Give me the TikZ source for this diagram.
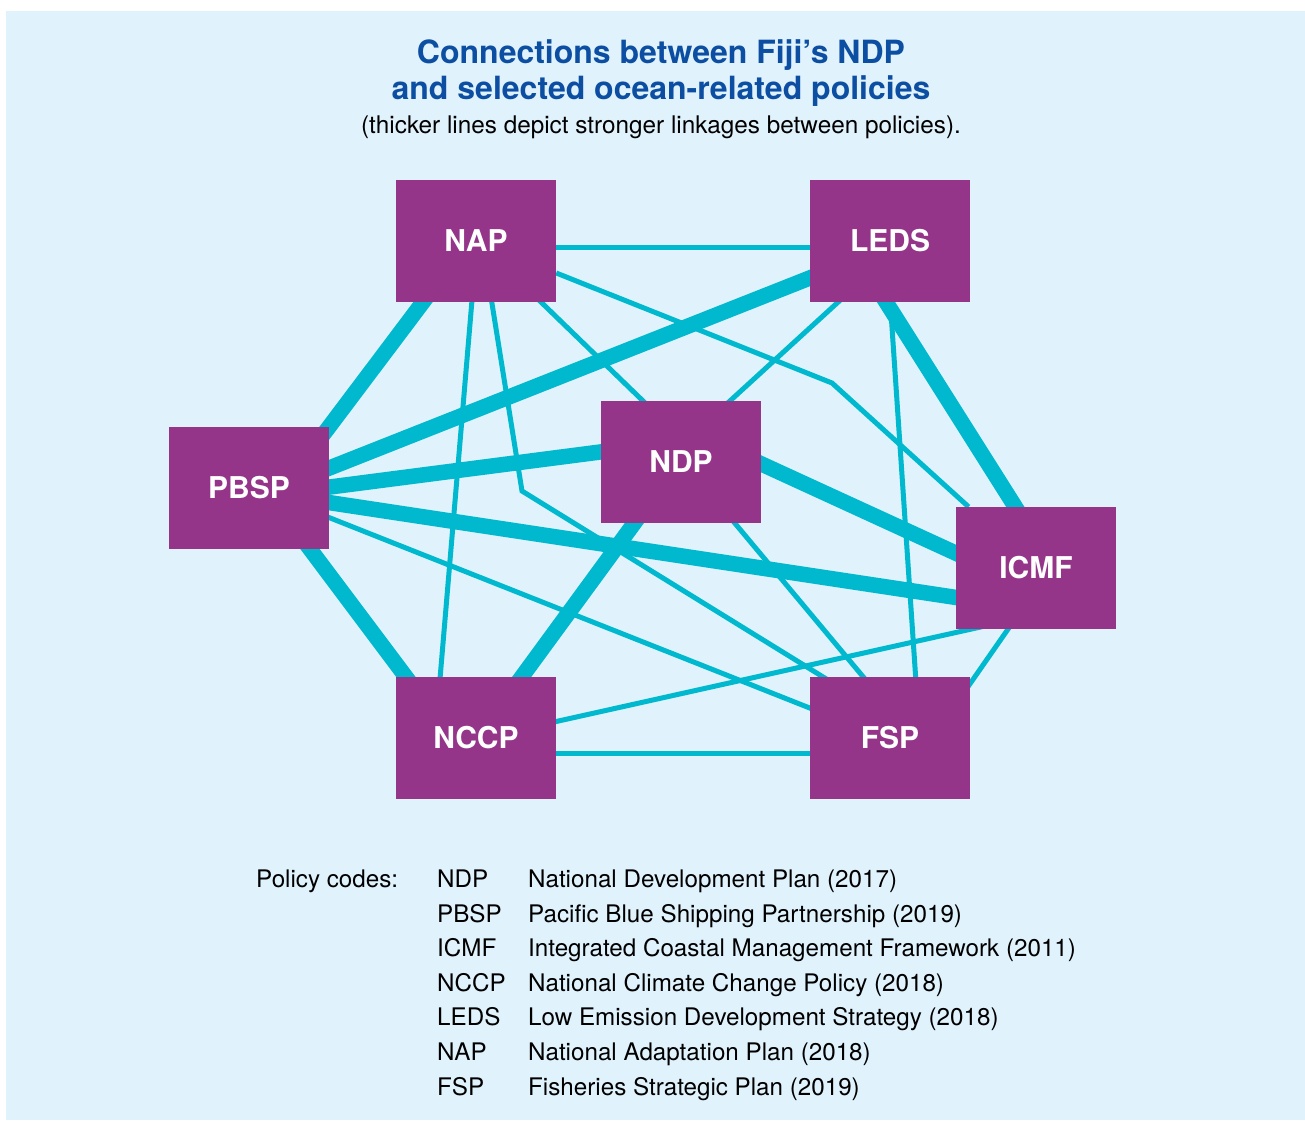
\documentclass[tikz,border=0pt]{standalone}
\usepackage{fontspec}
\setmainfont{TeX Gyre Heros}
\usetikzlibrary{calc}
\definecolor{plum}{HTML}{94358A}
\definecolor{linkcyan}{HTML}{00B9CE}
\definecolor{paleblue}{HTML}{E0F2FC}
\definecolor{titleblue}{HTML}{0B4EA2}
\pgfdeclarelayer{bg}
\pgfdeclarelayer{links}
\pgfsetlayers{bg,links,main}

\begin{document}
\begin{tikzpicture}%
	[x=1pt, y=-1pt,
	policy/.style={fill=plum, text=white, minimum width=160pt, minimum height=122pt,
		inner sep=0pt, font=\fontsize{30}{32}\selectfont\bfseries},
	weak/.style={draw=linkcyan, line width=5pt},
	strong/.style={draw=linkcyan, line width=15.5pt},
	heading/.style={anchor=base, inner sep=0pt, text=titleblue,
		font=\fontsize{32}{35}\selectfont\bfseries},
	legend/.style={anchor=base west, inner sep=0pt, font=\fontsize{24.2}{26}\selectfont}]
%
\useasboundingbox (0,0) rectangle (1305,1120);
\begin{pgfonlayer}{bg}
\fill[paleblue] (6,11) rectangle (1305,1120);
\end{pgfonlayer}
%
%% Title
%%
\node[heading] (title1) at (661,63) {Connections between Fiji's NDP};
\node[heading] (title2) at (661,99) {and selected ocean-related policies};
\node[anchor=base, inner sep=0pt, font=\fontsize{24.3}{26}\selectfont] (subtitle) at (661,133)
	{(thicker lines depict stronger linkages between policies).};
%
%% The policy boxes
%%
\node[policy] (nap)  at (476,241) {NAP};
\node[policy] (leds) at (890,241) {LEDS};
\node[policy] (pbsp) at (249,488) {PBSP};
\node[policy] (ndp)  at (681,462) {NDP};
\node[policy] (icmf) at (1036,568) {ICMF};
\node[policy] (nccp) at (476,738) {NCCP};
\node[policy] (fsp)  at (890,738) {FSP};
%
\coordinate (napbend)  at (522,491);
\coordinate (icmfbend) at (832,383);
%
%% Drawing the linkages behind the boxes
%%
\begin{pgfonlayer}{links}
\draw[weak] ($(nap)+(0,6)$) -- ($(leds)+(0,6)$);
\draw[weak] ($(nap)+(1,0)$) -- ($(nccp)+(-41,0)$);
\draw[weak] ($(nap)+(6,0)$) -- (napbend) -- ($(fsp)+(-28,-37)$);
\draw[weak] ($(nap)+(2,0)$) -- ($(ndp)+(25,0)$);
\draw[weak] (nap) -- (icmfbend) -- (icmf);
\draw[weak] ($(leds)+(-31,42)$) -- ($(ndp)+(27,-41)$);
\draw[weak] ($(leds)+(-1,42)$) -- ($(fsp)+(27,-41)$);
\draw[weak] ($(pbsp)+(51,18)$) -- ($(fsp)+(-50,-18)$);
\draw[weak] ($(ndp)+(37,41)$) -- ($(fsp)+(-10,-41)$);
\draw[weak] ($(nccp)+(51,-10)$) -- ($(icmf)+(-33,54)$);
\draw[weak] ($(icmf)+(-14,41)$) -- ($(fsp)+(68,-37)$);
\draw[weak] ($(nccp)+(0,15)$) -- ($(fsp)+(0,15)$);
%
\draw[strong] ($(pbsp)+(34,0)$) -- ($(nap)+(-7,0)$);
\draw[strong] ($(pbsp)+(50,-8)$) -- ($(leds)+(-50,25)$);
\draw[strong] ($(leds)+(-16,42)$) -- ($(icmf)+(-8,-41)$);
\draw[strong] ($(pbsp)+(50,3)$) -- ($(ndp)+(-50,-14)$);
\draw[strong] ($(pbsp)+(50,10)$) -- ($(icmf)+(-50,34)$);
\draw[strong] ($(pbsp)+(46,41)$) -- ($(nccp)+(-55,-41)$);
\draw[strong] ($(ndp)+(50,-12)$) -- ($(icmf)+(-50,-1)$);
\draw[strong] ($(ndp)+(-32,41)$) -- ($(nccp)+(31,-41)$);
\end{pgfonlayer}
%
%% Policy codes
%%
\node[legend] (codes) at (256,887.5) {Policy codes:};
\foreach \code/\full [count=\i from 0] in {NDP/National Development Plan (2017),
	PBSP/Pacific Blue Shipping Partnership (2019),
	ICMF/Integrated Coastal Management Framework (2011),
	NCCP/National Climate Change Policy (2018),
	LEDS/Low Emission Development Strategy (2018),
	NAP/National Adaptation Plan (2018),
	FSP/Fisheries Strategic Plan (2019)}{
	\node[legend] (code\i) at (437,{887.5+34.6*\i}) {\code};
	\node[legend] (full\i) at (528,{887.5+34.6*\i}) {\full};
}
\end{tikzpicture}
\end{document}
